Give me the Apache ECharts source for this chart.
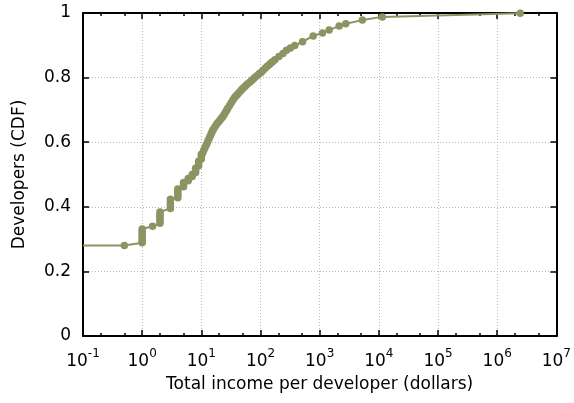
<!DOCTYPE html>
<html><head><meta charset="utf-8">
<script src="https://cdn.jsdelivr.net/npm/echarts@6/dist/echarts.min.js"></script>
<style>html,body{margin:0;padding:0;background:#fff}#c{width:574px;height:403px}</style>
</head><body><div id="c"></div>
<script>
// Total income per developer (dollars)
const incomes = [0.1, 0.5,
  1,1,1,1,1,1,1,
  1.5,
  2,2,2,2,2,2,
  3,3,3,3,3,
  4,4,4,4,4,
  5,5,5,
  6,6,
  7,7,
  8,8,8,
  9,9,9,
  10,10,10,
  10.5,11,11.5,12,12.5,13,13.5,14,14.5,15,15.5,16,17,18,19,20,21,22,23,24,25,26,27,28,30,32,34,36,38,40,42,45,48,50,53,56,60,65,70,75,80,87,95,102,110,120,130,140,150,160,175,
  205,240,275,320,380,513,777,1114,1445,2134,2760,5260,11430,2450000];
// Developers (CDF)
const cdf = [0.28,0.28,
  0.289,0.296,0.303,0.310,0.317,0.324,0.331,
  0.340,
  0.349,0.356,0.363,0.370,0.377,0.384,
  0.395,0.402,0.409,0.416,0.423,
  0.428,0.435,0.442,0.449,0.455,
  0.462,0.469,0.475,
  0.481,0.488,
  0.494,0.500,
  0.506,0.513,0.519,
  0.527,0.534,0.541,
  0.548,0.556,0.563,
  0.566,0.575,0.583,0.59,0.597,0.605,0.611,0.618,0.624,0.63,0.636,0.64,0.648,0.655,0.66,0.665,0.67,0.675,0.679,0.684,0.69,0.695,0.70,0.705,0.714,0.722,0.73,0.737,0.742,0.746,0.751,0.757,0.762,0.766,0.77,0.775,0.78,0.785,0.79,0.795,0.80,0.806,0.812,0.816,0.822,0.829,0.835,0.84,0.845,0.849,0.855,
  0.865,0.875,0.885,0.892,0.899,0.911,0.929,0.938,0.947,0.960,0.967,0.978,0.988,0.999];
const xMin = 0.1, xMax = 1e7;
const yTickValues = [0, 0.2, 0.4, 0.6, 0.8, 1];
const minorMultipliers = [2, 5];

const FONT = 'DejaVu Sans';
const COLOR = '#8b9462';

const minorPos = [];
for (let e = Math.round(Math.log10(xMin)); e < Math.round(Math.log10(xMax)); e++) {
  minorMultipliers.forEach(m => minorPos.push(Math.log10(m) + e));
}

const data = incomes.map((x, i) => i === 0 ? {value: [x, cdf[i]], symbol: 'none'} : [x, cdf[i]]);

const axisLineStyle = {show: true, onZero: false, lineStyle: {color: '#000', width: 2}};
const gridLine = {show: true, lineStyle: {color: '#b8b8b8', width: 1, type: [1, 2]}};
const majorTick = {show: true, inside: true, length: 6, lineStyle: {color: '#000', width: 1.5}};
const minorTick = {show: true, inside: true, length: 3, customValues: minorPos, lineStyle: {color: '#000', width: 1.5}};

const chart = echarts.init(document.getElementById('c'), null, {renderer: 'canvas'});
chart.setOption({
  animation: false,
  backgroundColor: '#fff',
  grid: {left: 83, right: 16, top: 13, bottom: 67},
  xAxis: [
    {
      type: 'log', logBase: 10, min: xMin, max: xMax, position: 'bottom',
      axisLine: axisLineStyle,
      axisTick: majorTick,
      splitLine: gridLine,
      axisLabel: {
        margin: 12,
        formatter: v => '{b|10}{s|' + Math.round(Math.log10(v)) + '}',
        rich: {
          b: {fontSize: 17, fontFamily: FONT, color: '#000', lineHeight: 22, verticalAlign: 'bottom'},
          s: {fontSize: 12, fontFamily: FONT, color: '#000', lineHeight: 12, verticalAlign: 'top'}
        }
      },
      name: 'Total income per developer (dollars)',
      nameLocation: 'middle', nameGap: 40,
      nameTextStyle: {fontSize: 17, fontFamily: FONT, color: '#000'}
    },
    {
      type: 'log', logBase: 10, min: xMin, max: xMax, position: 'top',
      axisLine: axisLineStyle,
      axisTick: majorTick,
      axisLabel: {show: false}, splitLine: {show: false}
    },
    {
      type: 'value', min: -1, max: 7, position: 'bottom',
      axisLine: {show: false, onZero: false}, axisLabel: {show: false}, splitLine: {show: false},
      axisTick: minorTick
    },
    {
      type: 'value', min: -1, max: 7, position: 'top',
      axisLine: {show: false, onZero: false}, axisLabel: {show: false}, splitLine: {show: false},
      axisTick: minorTick
    }
  ],
  yAxis: [
    {
      type: 'value', min: 0, max: 1, interval: 0.2, position: 'left',
      axisLine: axisLineStyle,
      axisTick: majorTick,
      splitLine: gridLine,
      axisLabel: {
        margin: 12, fontSize: 17, fontFamily: FONT, color: '#000',
        formatter: v => {
          const t = yTickValues.find(u => Math.abs(u - v) < 1e-9);
          return t === undefined ? '' : String(t);
        }
      },
      name: 'Developers (CDF)', nameLocation: 'middle', nameGap: 55,
      nameTextStyle: {fontSize: 17, fontFamily: FONT, color: '#000'}
    },
    {
      type: 'value', min: 0, max: 1, interval: 0.2, position: 'right',
      axisLine: axisLineStyle,
      axisTick: majorTick,
      axisLabel: {show: false}, splitLine: {show: false}
    }
  ],
  series: [{
    type: 'line', xAxisIndex: 0, yAxisIndex: 0,
    data: data,
    symbol: 'circle', symbolSize: 7.5, showAllSymbol: true,
    itemStyle: {color: COLOR},
    lineStyle: {color: COLOR, width: 2},
    z: 5
  }]
});
</script>
</body></html>
